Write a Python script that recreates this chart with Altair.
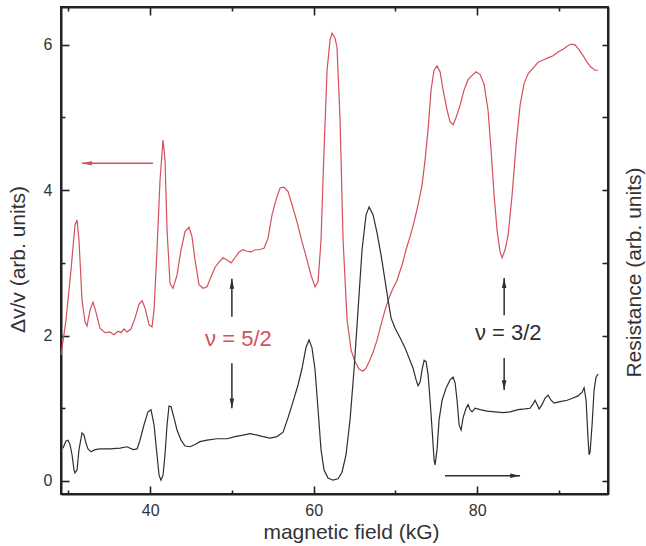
import altair as alt
import pandas as pd

# ---------------- data ----------------
red_x = [29.1, 29.71, 30.32, 30.81, 31.06, 31.30, 31.67, 32.04, 32.28, 32.65, 33.01, 33.38, 33.87,
         34.48, 35.09, 35.58, 36.07, 36.44, 36.81, 37.17, 37.66, 38.15, 38.64, 39.01, 39.38, 39.86,
         40.23, 40.48, 40.84, 41.21, 41.58, 41.82, 42.07, 42.43, 42.80, 43.29, 43.78, 44.27, 44.76,
         45.12, 45.49, 45.98, 46.47, 46.96, 47.45, 47.94, 48.43, 48.92, 49.41, 49.90, 50.38, 50.87,
         51.36, 51.85, 52.34, 52.83, 53.32, 53.93, 54.42, 54.91, 55.40, 55.89, 56.38, 56.87, 57.36,
         57.97, 58.58, 59.19, 59.68, 60.17, 60.54, 60.90, 61.27, 61.64, 62.01, 62.25, 62.62, 62.86,
         63.23, 63.60, 64.09, 64.58, 65.06, 65.55, 66.04, 66.41, 66.78, 67.27, 67.76, 68.24, 68.73,
         69.22, 69.71, 70.20, 70.81, 71.30, 71.79, 72.28, 72.77, 73.26, 73.63, 73.99, 74.36, 74.73,
         75.09, 75.46, 75.83, 76.32, 76.69, 77.05, 77.42, 77.91, 78.40, 78.89, 79.38, 79.87, 80.36,
         80.84, 81.33, 81.70, 82.07, 82.43, 82.80, 83.05, 83.41, 83.78, 84.27, 84.76, 85.25, 85.74,
         86.23, 86.84, 87.45, 88.06, 88.67, 89.28, 89.90, 90.51, 91.00, 91.49, 91.98, 92.46, 92.95,
         93.44, 93.93, 94.42, 94.79]
red_y = [1.73, 2.21, 2.90, 3.52, 3.59, 3.31, 2.49, 2.19, 2.13, 2.35, 2.46, 2.32, 2.10,
         2.04, 2.05, 2.01, 2.06, 2.04, 2.09, 2.05, 2.09, 2.24, 2.43, 2.48, 2.38, 2.15,
         2.12, 2.35, 3.18, 4.14, 4.69, 4.42, 3.45, 2.72, 2.65, 2.83, 3.18, 3.43, 3.49,
         3.36, 3.04, 2.70, 2.65, 2.67, 2.81, 2.94, 3.01, 3.07, 3.04, 3.00, 3.07, 3.15,
         3.18, 3.16, 3.15, 3.18, 3.18, 3.20, 3.34, 3.66, 3.87, 4.03, 4.04, 3.98, 3.80,
         3.56, 3.29, 3.04, 2.83, 2.67, 2.74, 3.31, 4.55, 5.65, 6.07, 6.16, 6.09, 5.96,
         4.97, 3.31, 2.21, 1.80, 1.64, 1.54, 1.51, 1.55, 1.64, 1.77, 1.94, 2.15, 2.35,
         2.52, 2.65, 2.76, 2.97, 3.18, 3.36, 3.56, 3.80, 4.07, 4.42, 4.83, 5.38, 5.65,
         5.71, 5.63, 5.38, 5.10, 4.94, 4.90, 5.00, 5.17, 5.38, 5.52, 5.58, 5.63, 5.59,
         5.46, 5.10, 4.55, 3.93, 3.45, 3.15, 3.07, 3.18, 3.38, 3.93, 4.62, 5.17, 5.47,
         5.60, 5.68, 5.76, 5.79, 5.82, 5.85, 5.90, 5.94, 5.98, 6.01, 6.00, 5.93, 5.85,
         5.76, 5.69, 5.65, 5.65]

black_x = [29.34, 29.71, 29.96, 30.20, 30.45, 30.69, 30.81, 31.06, 31.30, 31.67, 31.91, 32.16, 32.40,
           32.77, 33.26, 33.87, 35.09, 36.32, 37.17, 37.91, 38.40, 38.76, 39.25, 39.74, 40.11, 40.48,
           40.84, 41.09, 41.33, 41.58, 41.82, 42.07, 42.31, 42.56, 42.92, 43.29, 43.78, 44.27, 44.88,
           45.49, 46.10, 46.96, 48.18, 49.41, 50.38, 51.36, 52.22, 53.08, 53.81, 54.67, 55.52, 56.26,
           56.87, 57.48, 58.09, 58.58, 59.07, 59.44, 59.80, 60.17, 60.54, 60.90, 61.27, 61.76, 62.37,
           62.98, 63.47, 63.96, 64.45, 64.94, 65.43, 65.92, 66.41, 66.78, 67.27, 67.76, 68.24, 68.73,
           69.10, 69.47, 69.96, 70.57, 71.18, 71.67, 72.16, 72.53, 72.77, 73.02, 73.26, 73.51, 73.75,
           74.00, 74.24, 74.49, 74.73, 74.85, 75.09, 75.34, 75.71, 76.20, 76.69, 77.05, 77.30, 77.54,
           77.79, 78.03, 78.28, 78.64, 78.89, 79.13, 79.38, 79.74, 80.36, 81.21, 82.19, 83.17, 84.03,
           85.01, 85.86, 86.47, 86.84, 87.08, 87.33, 87.57, 87.94, 88.31, 88.67, 89.04, 89.41, 90.14,
           91.00, 91.73, 92.34, 92.83, 93.08, 93.32, 93.57, 93.69, 93.81, 94.05, 94.30, 94.54, 94.79]
black_y = [0.45, 0.55, 0.56, 0.50, 0.36, 0.15, 0.11, 0.15, 0.43, 0.66, 0.63, 0.52, 0.44,
           0.40, 0.43, 0.44, 0.44, 0.45, 0.47, 0.43, 0.44, 0.56, 0.77, 0.95, 0.98, 0.77,
           0.36, 0.08, 0.01, 0.08, 0.36, 0.77, 1.03, 1.02, 0.87, 0.70, 0.56, 0.48, 0.47,
           0.50, 0.54, 0.56, 0.58, 0.58, 0.61, 0.63, 0.65, 0.63, 0.61, 0.59, 0.61, 0.67,
           0.87, 1.09, 1.32, 1.55, 1.84, 1.94, 1.83, 1.53, 0.98, 0.43, 0.15, 0.04, 0.01,
           0.03, 0.12, 0.36, 0.84, 1.53, 2.35, 3.18, 3.66, 3.77, 3.66, 3.41, 3.11, 2.76,
           2.49, 2.24, 2.10, 1.97, 1.83, 1.69, 1.55, 1.39, 1.31, 1.36, 1.53, 1.66, 1.64,
           1.46, 1.11, 0.70, 0.29, 0.22, 0.43, 0.84, 1.11, 1.28, 1.39, 1.43, 1.35, 1.11,
           0.77, 0.70, 0.87, 1.00, 1.05, 0.98, 0.95, 1.00, 0.98, 0.96, 0.95, 0.94, 0.95,
           0.98, 0.99, 1.00, 1.06, 1.11, 1.05, 0.99, 1.05, 1.14, 1.18, 1.11, 1.07, 1.09,
           1.11, 1.14, 1.17, 1.22, 1.28, 1.11, 0.56, 0.36, 0.40, 0.77, 1.25, 1.43, 1.47]

# annotation labels
label_text = ["\u03bd = 5/2", "\u03bd = 3/2"]
label_x = [50.8, 83.8]
label_y = [1.95, 2.04]
label_series = ["ultrasound", "resistance"]

# arrows: start -> tip
arrow_x = [40.35, 50.0, 50.0, 83.3, 83.3, 76.07]
arrow_y = [4.37, 2.26, 1.62, 2.28, 1.69, 0.07]
arrow_x2 = [31.67, 50.0, 50.0, 83.3, 83.3, 85.24]
arrow_y2 = [4.37, 2.78, 1.00, 2.79, 1.25, 0.07]
arrow_dir = ["left", "up", "down", "up", "down", "right"]
arrow_series = ["ultrasound", "resistance", "resistance", "resistance", "resistance", "resistance"]

# axis ticks
x_major = [40, 60, 80]
x_minor = [30, 50, 70, 90]
y_major = [0, 2, 4, 6]
y_minor = [1, 3, 5]
y_right = [0, 1, 2, 3, 4, 5, 6]

X_DOMAIN = [29.1, 96.0]
Y_DOMAIN = [-0.18, 6.52]

# ---------------- styling ----------------
RED = "#d4505c"
DARK = "#2e2e2e"
FRAME = "#222222"
FONT = "Liberation Sans"
series_scale = alt.Scale(domain=["ultrasound", "resistance"], range=[RED, DARK])
dir_scale = alt.Scale(
    domain=["up", "down", "left", "right"],
    range=["M0,0L0.5,2.2L-0.5,2.2Z", "M0,0L0.5,-2.2L-0.5,-2.2Z",
           "M0,0L2.2,0.5L2.2,-0.5Z", "M0,0L-2.2,0.5L-2.2,-0.5Z"],
)


def xs():
    return alt.Scale(domain=X_DOMAIN, nice=False, zero=False)


def ys():
    return alt.Scale(domain=Y_DOMAIN, nice=False, zero=False)


base_axis = dict(grid=False, tickColor=FRAME, tickWidth=1.6,
                 domainColor=FRAME, domainWidth=2,
                 labelFont=FONT, labelFontSize=16, labelColor="#333333",
                 titleFont=FONT, titleFontSize=21, titleFontWeight="normal",
                 titleColor="#333333")
MAJOR = {"expr": "-8"}   # inward ticks
MINOR = {"expr": "-4"}
RIGHT = {"expr": "-6"}

red_df = pd.DataFrame({"B": red_x, "V": red_y})
black_df = pd.DataFrame({"B": black_x, "V": black_y})
lab_df = pd.DataFrame({"B": label_x, "V": label_y, "t": label_text, "s": label_series})
arr_df = pd.DataFrame({"B": arrow_x, "V": arrow_y, "B2": arrow_x2, "V2": arrow_y2,
                       "d": arrow_dir, "s": arrow_series})

red_line = alt.Chart(red_df).mark_line(color=RED, strokeWidth=1.2).encode(
    x=alt.X("B:Q", scale=xs(), axis=alt.Axis(
        orient="bottom", values=x_major, domain=True, tickSize=MAJOR, labelPadding=16,
        title="magnetic field (kG)", titleX=290, titleY=38, titleBaseline="middle",
        titleAlign="center", **base_axis)),
    y=alt.Y("V:Q", scale=ys(), axis=alt.Axis(
        orient="left", values=y_major, domain=True, tickSize=MAJOR, labelPadding=17,
        title="\u0394v/v (arb. units)", titleX=-43, titleY=252, titleAngle=270,
        titleBaseline="middle", titleAlign="center", **base_axis)),
)

black_line = alt.Chart(black_df).mark_line(color=DARK, strokeWidth=1.2).encode(
    x=alt.X("B:Q", scale=xs(), axis=alt.Axis(
        orient="bottom", values=x_minor, domain=False, tickSize=MINOR, labels=False,
        title=None, **base_axis)),
    y=alt.Y("V:Q", scale=ys(), axis=alt.Axis(
        orient="left", values=y_minor, domain=False, tickSize=MINOR, labels=False,
        title=None, **base_axis)),
)

labels = alt.Chart(lab_df).mark_text(font=FONT, fontSize=22).encode(
    x=alt.X("B:Q", scale=xs(), axis=alt.Axis(
        orient="top", values=x_major, domain=True, tickSize=MAJOR, labels=False,
        title=None, **base_axis)),
    y=alt.Y("V:Q", scale=ys(), axis=alt.Axis(
        orient="right", values=y_right, domain=True, tickSize=RIGHT, labels=False,
        title="Resistance (arb. units)", titleX=26, titleY=265, titleAngle=270,
        titleBaseline="middle", titleAlign="center", **base_axis)),
    text="t:N",
    color=alt.Color("s:N", scale=series_scale, legend=None),
)

shafts = alt.Chart(arr_df).mark_rule(strokeWidth=1.5).encode(
    x=alt.X("B:Q", scale=xs(), axis=alt.Axis(
        orient="top", values=x_minor, domain=False, tickSize=MINOR, labels=False,
        title=None, **base_axis)),
    y=alt.Y("V:Q", scale=ys(), axis=None),
    x2="B2:Q",
    y2="V2:Q",
    color=alt.Color("s:N", scale=series_scale, legend=None),
)

heads = alt.Chart(arr_df).mark_point(filled=True, opacity=1, size=80, strokeWidth=0).encode(
    x=alt.X("B2:Q", scale=xs(), axis=None),
    y=alt.Y("V2:Q", scale=ys(), axis=None),
    shape=alt.Shape("d:N", scale=dir_scale, legend=None),
    color=alt.Color("s:N", scale=series_scale, legend=None),
)

chart = (
    alt.layer(red_line, black_line, labels, shafts, heads)
    .resolve_scale(x="independent", y="independent", color="shared", shape="shared")
    .resolve_axis(x="independent", y="independent")
    .properties(width=547, height=487,
                padding={"left": 61, "top": 7, "right": 38, "bottom": 52},
                autosize=alt.AutoSizeParams(type="none"))
    .configure_view(stroke=FRAME, strokeWidth=2)
)

chart.save("out.html", embed_options={"renderer": "svg", "actions": False})
